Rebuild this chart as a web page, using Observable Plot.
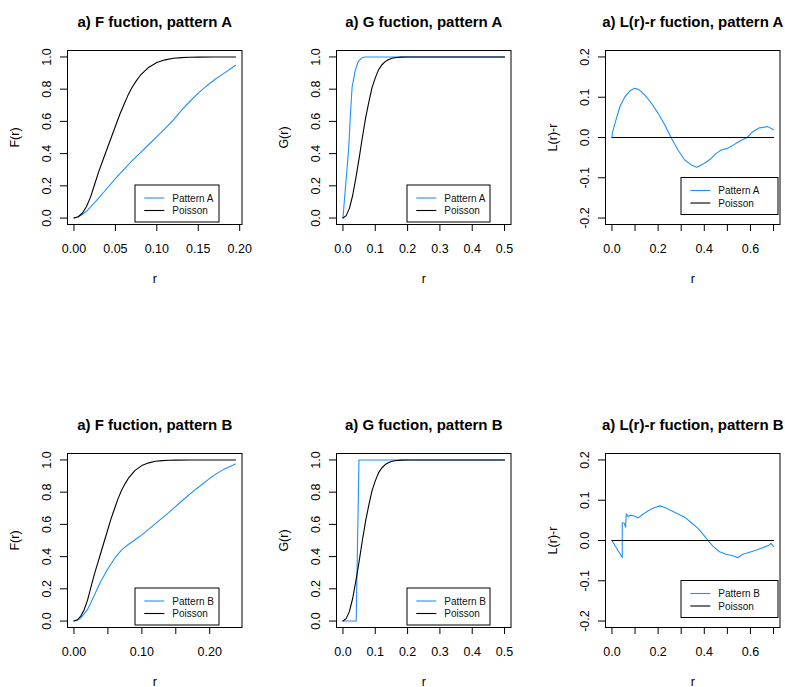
<!DOCTYPE html>
<html><head><meta charset="utf-8">
<script src="https://cdn.jsdelivr.net/npm/d3@7"></script>
<script src="https://cdn.jsdelivr.net/npm/@observablehq/plot@0.6"></script>
<style>
body{margin:0;background:#fff;overflow:hidden}
#chart{position:relative;width:785px;height:687px;overflow:hidden;background:#fff}
#chart svg{position:absolute;overflow:visible}
</style></head><body><div id="chart"></div>
<script>
// ---------- data ----------
const poissonFr = [0, 0.005, 0.01, 0.015, 0.02, 0.025, 0.03, 0.035, 0.04, 0.045, 0.05, 0.055, 0.06, 0.065, 0.07, 0.075, 0.08, 0.09, 0.10, 0.11, 0.12, 0.13, 0.14, 0.15, 0.17, 0.195, 0.238];
const poissonF  = [0, 0.008, 0.03, 0.07, 0.13, 0.21, 0.29, 0.36, 0.43, 0.50, 0.57, 0.64, 0.70, 0.76, 0.81, 0.85, 0.885, 0.935, 0.965, 0.982, 0.992, 0.996, 0.998, 0.999, 1, 1, 1];

const patternAFr = [0, 0.005, 0.01, 0.015, 0.02, 0.03, 0.04, 0.05, 0.06, 0.07, 0.08, 0.09, 0.10, 0.11, 0.12, 0.13, 0.14, 0.15, 0.16, 0.17, 0.18, 0.19, 0.195];
const patternAF  = [0, 0.007, 0.022, 0.042, 0.068, 0.125, 0.185, 0.245, 0.30, 0.355, 0.405, 0.455, 0.505, 0.555, 0.61, 0.67, 0.725, 0.775, 0.82, 0.86, 0.895, 0.93, 0.948];

const patternBFr = [0, 0.005, 0.01, 0.02, 0.03, 0.04, 0.05, 0.06, 0.07, 0.08, 0.09, 0.10, 0.12, 0.14, 0.16, 0.18, 0.20, 0.21, 0.22, 0.23, 0.238];
const patternBF  = [0, 0.005, 0.018, 0.072, 0.16, 0.25, 0.325, 0.39, 0.44, 0.475, 0.505, 0.535, 0.605, 0.675, 0.75, 0.82, 0.886, 0.915, 0.94, 0.96, 0.975];

const poissonGr = [0, 0.01, 0.02, 0.03, 0.04, 0.05, 0.06, 0.07, 0.08, 0.09, 0.10, 0.11, 0.12, 0.13, 0.14, 0.15, 0.16, 0.18, 0.20, 0.50];
const poissonG  = [0, 0.015, 0.06, 0.14, 0.25, 0.37, 0.50, 0.62, 0.72, 0.81, 0.87, 0.92, 0.95, 0.97, 0.982, 0.99, 0.995, 0.999, 1, 1];

const patternAGr = [0, 0.0094, 0.0177, 0.023, 0.0282, 0.0373, 0.0476, 0.058, 0.068, 0.5];
const patternAG  = [0, 0.23, 0.43, 0.64, 0.81, 0.91, 0.973, 0.994, 1, 1];

const patternBGr = [0, 0.041, 0.0495, 0.5];
const patternBG  = [0, 0, 1, 1];

const poissonLr = [0, 0.7];
const poissonL  = [0, 0];

const patternALr = [0, 0.0014, 0.013, 0.0345, 0.056, 0.078, 0.099, 0.114, 0.142, 0.171, 0.2, 0.229, 0.2576, 0.286, 0.315, 0.344, 0.368, 0.401, 0.43, 0.45, 0.473, 0.5, 0.517, 0.55, 0.586, 0.61, 0.639, 0.675, 0.70];
const patternAL  = [0, 0.01, 0.035, 0.077, 0.101, 0.116, 0.122, 0.120, 0.106, 0.085, 0.06, 0.031, -0.002, -0.031, -0.056, -0.068, -0.074, -0.064, -0.052, -0.04, -0.031, -0.027, -0.022, -0.01, 0.0, 0.0145, 0.024, 0.027, 0.019];

const patternBLr = [0, 0.0446, 0.0446, 0.0532, 0.059, 0.0619, 0.0705, 0.0791, 0.0964, 0.1137, 0.131, 0.157, 0.186, 0.207, 0.229, 0.258, 0.286, 0.315, 0.344, 0.373, 0.401, 0.416, 0.437, 0.466, 0.495, 0.524, 0.545, 0.567, 0.596, 0.624, 0.653, 0.682, 0.689, 0.70];
const patternBL  = [0, -0.042, 0.044, 0.043, 0.033, 0.066, 0.059, 0.063, 0.061, 0.056, 0.064, 0.074, 0.082, 0.086, 0.082, 0.074, 0.066, 0.058, 0.044, 0.030, 0.011, 0.0, -0.014, -0.028, -0.034, -0.038, -0.043, -0.034, -0.029, -0.024, -0.018, -0.011, -0.007, -0.015];

// ---------- ticks & labels ----------
const xTicksF = [0, 0.05, 0.10, 0.15, 0.20];
const xLabelsFA = ["0.00", "0.05", "0.10", "0.15", "0.20"];
const xLabelsFB = ["0.00", "", "0.10", "", "0.20"];
const xTicksG = [0, 0.1, 0.2, 0.3, 0.4, 0.5];
const xLabelsG = ["0.0", "0.1", "0.2", "0.3", "0.4", "0.5"];
const xTicksL = [0, 0.1, 0.2, 0.3, 0.4, 0.5, 0.6, 0.7];
const xLabelsL = ["0.0", "", "0.2", "", "0.4", "", "0.6", ""];
const yTicksFG = [0, 0.2, 0.4, 0.6, 0.8, 1.0];
const yLabelsFG = ["0.0", "0.2", "0.4", "0.6", "0.8", "1.0"];
const yTicksL = [-0.2, -0.1, 0, 0.1, 0.2];
const yLabelsL = ["-0.2", "-0.1", "0.0", "0.1", "0.2"];

const titles = ["a) F fuction, pattern A", "a) G fuction, pattern A", "a) L(r)-r fuction, pattern A",
                "a) F fuction, pattern B", "a) G fuction, pattern B", "a) L(r)-r fuction, pattern B"];
const yAxisLabels = ["F(r)", "G(r)", "L(r)-r"];
const xAxisLabel = "r";
const seriesNames = ["Pattern A", "Pattern B", "Poisson"];

// ---------- styling ----------
const BLUE = "#1E90FF";
const FONT = "'Liberation Sans', Arial, Helvetica, sans-serif";
const colLeft = [0, 269, 538];
const rowTop = [0, 403];
const legendBoxes = {
  F: {x: 135, y: 185, w: 84, h: 37},
  G: {x: 138, y: 185, w: 83, h: 37},
  L: {x: 143, y: 177.5, w: 97, h: 37}
};

function legendMark(box, labels, colors) {
  return () => {
    const g = d3.create("svg:g").attr("font-size", 10).attr("font-family", FONT).attr("text-anchor", "start");
    g.append("rect").attr("x", box.x).attr("y", box.y).attr("width", box.w).attr("height", box.h)
      .attr("fill", "white").attr("stroke", "black");
    labels.forEach((lab, i) => {
      const yy = box.y + 13 + i * 12.5;
      g.append("line").attr("x1", box.x + 9.3).attr("x2", box.x + 29.3).attr("y1", yy).attr("y2", yy)
        .attr("stroke", colors[i]).attr("stroke-width", 1.1);
      g.append("text").attr("x", box.x + 37.3).attr("y", yy).attr("dy", "0.35em")
        .attr("text-anchor", "start").attr("fill", "#111").text(lab);
    });
    return g.node();
  };
}

function panel(cfg) {
  const [x0, x1] = cfg.xlim, [y0, y1] = cfg.ylim;
  const ex = (x1 - x0) * 0.04, ey = (y1 - y0) * 0.04;
  const rows = [];
  cfg.series.forEach(s => s.r.forEach((r, i) => { if (r <= x1 + 1e-9) rows.push({r, v: s.v[i], name: s.name}); }));
  const names = cfg.series.map(s => s.name);
  const colors = [BLUE, "black"];
  return Plot.plot({
    width: 262, height: 284,
    marginLeft: 67, marginRight: 20.5, marginTop: 50, marginBottom: 60,
    style: {fontFamily: FONT, fontSize: "12.5px", background: "transparent", color: "black", overflow: "visible"},
    x: {domain: [x0 - ex, x1 + ex]},
    y: {domain: [y0 - ey, y1 + ey]},
    color: {domain: names, range: colors},
    marks: [
      Plot.axisX({ticks: cfg.xTicks, tickFormat: d => cfg.xLabels[cfg.xTicks.indexOf(d)],
        tickSize: 7, tickPadding: 13, fontSize: 12.5, label: null}),
      Plot.axisY({ticks: cfg.yTicks, tickFormat: d => cfg.yLabels[cfg.yTicks.indexOf(d)],
        tickSize: 7, tickPadding: 9.5, tickRotate: -90, fontSize: 12.5, label: null}),
      Plot.line(rows, {x: "r", y: "v", z: "name", stroke: "name", strokeWidth: 1.1}),
      Plot.frame({stroke: "black", strokeWidth: 1}),
      Plot.text([cfg.title], {frameAnchor: "top", dy: -24, lineAnchor: "bottom",
        fontSize: 15, fontWeight: "bold", fill: "black"}),
      Plot.text([xAxisLabel], {frameAnchor: "bottom", dy: 58, lineAnchor: "bottom", fontSize: 12.5, fill: "black"}),
      Plot.text([cfg.ylab], {frameAnchor: "left", dx: -48.5, rotate: -90, lineAnchor: "bottom",
        textAnchor: "middle", fontSize: 12.5, fill: "black"}),
      legendMark(cfg.legend, names, colors)
    ]
  });
}

const panels = [
  {col: 0, row: 0, title: titles[0], ylab: yAxisLabels[0], xlim: [0, 0.195], ylim: [0, 1],
   xTicks: xTicksF, xLabels: xLabelsFA, yTicks: yTicksFG, yLabels: yLabelsFG, legend: legendBoxes.F,
   series: [{name: seriesNames[0], r: patternAFr, v: patternAF}, {name: seriesNames[2], r: poissonFr, v: poissonF}]},
  {col: 1, row: 0, title: titles[1], ylab: yAxisLabels[1], xlim: [0, 0.5], ylim: [0, 1],
   xTicks: xTicksG, xLabels: xLabelsG, yTicks: yTicksFG, yLabels: yLabelsFG, legend: legendBoxes.G,
   series: [{name: seriesNames[0], r: patternAGr, v: patternAG}, {name: seriesNames[2], r: poissonGr, v: poissonG}]},
  {col: 2, row: 0, title: titles[2], ylab: yAxisLabels[2], xlim: [0, 0.7], ylim: [-0.2, 0.2],
   xTicks: xTicksL, xLabels: xLabelsL, yTicks: yTicksL, yLabels: yLabelsL, legend: legendBoxes.L,
   series: [{name: seriesNames[0], r: patternALr, v: patternAL}, {name: seriesNames[2], r: poissonLr, v: poissonL}]},
  {col: 0, row: 1, title: titles[3], ylab: yAxisLabels[0], xlim: [0, 0.238], ylim: [0, 1],
   xTicks: xTicksF, xLabels: xLabelsFB, yTicks: yTicksFG, yLabels: yLabelsFG, legend: legendBoxes.F,
   series: [{name: seriesNames[1], r: patternBFr, v: patternBF}, {name: seriesNames[2], r: poissonFr, v: poissonF}]},
  {col: 1, row: 1, title: titles[4], ylab: yAxisLabels[1], xlim: [0, 0.5], ylim: [0, 1],
   xTicks: xTicksG, xLabels: xLabelsG, yTicks: yTicksFG, yLabels: yLabelsFG, legend: legendBoxes.G,
   series: [{name: seriesNames[1], r: patternBGr, v: patternBG}, {name: seriesNames[2], r: poissonGr, v: poissonG}]},
  {col: 2, row: 1, title: titles[5], ylab: yAxisLabels[2], xlim: [0, 0.7], ylim: [-0.2, 0.2],
   xTicks: xTicksL, xLabels: xLabelsL, yTicks: yTicksL, yLabels: yLabelsL, legend: legendBoxes.L,
   series: [{name: seriesNames[1], r: patternBLr, v: patternBL}, {name: seriesNames[2], r: poissonLr, v: poissonL}]}
];

const container = document.getElementById("chart");
panels.forEach(cfg => {
  const svg = panel(cfg);
  svg.style.left = colLeft[cfg.col] + "px";
  svg.style.top = rowTop[cfg.row] + "px";
  container.appendChild(svg);
});
</script></body></html>
